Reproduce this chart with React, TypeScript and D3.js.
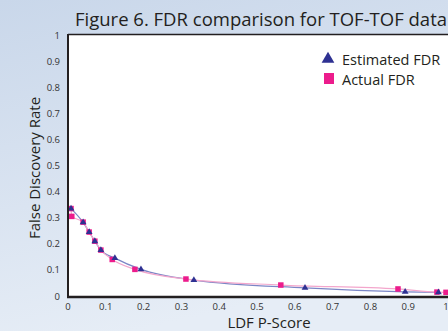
import React from 'react';
import * as d3 from 'd3';

const xTicks = [0, 0.1, 0.2, 0.3, 0.4, 0.5, 0.6, 0.7, 0.8, 0.9, 1];
const yTicks = [0, 0.1, 0.2, 0.3, 0.4, 0.5, 0.6, 0.7, 0.8, 0.9, 1];

// [LDF P-score, FDR]
const estimated: [number, number][] = [
  [0.008, 0.335], [0.04, 0.282], [0.056, 0.245], [0.071, 0.21], [0.087, 0.176],
  [0.124, 0.145], [0.193, 0.102], [0.333, 0.061], [0.627, 0.031], [0.892, 0.016], [0.98, 0.014]
];
const actual: [number, number][] = [
  [0.008, 0.335], [0.01, 0.305], [0.04, 0.283], [0.056, 0.245], [0.071, 0.21], [0.087, 0.176],
  [0.117, 0.14], [0.177, 0.102], [0.312, 0.065], [0.563, 0.042], [0.873, 0.027], [0.976, 0.015], [1.0, 0.014]
];

const W = 448;
const H = 331;

export default () => {
  const x = d3.scaleLinear().domain([0, 1]).range([68, 446]);
  const y = d3.scaleLinear().domain([0, 1]).range([296, 35]);

  const line = d3.line<[number, number]>()
    .curve(d3.curveMonotoneX)
    .x(d => x(d[0]))
    .y(d => y(d[1]));

  const tri = d3.symbol().type(d3.symbolTriangle).size(20)();

  return (
    <svg width={W} height={H} style={{ position: 'absolute', left: 0, top: 0, fontFamily: 'Open Sans, sans-serif' }}>
      <defs>
        <linearGradient id="bg" x1="0" y1="0" x2="0.3" y2="1">
          <stop offset="0" stopColor="#c9d7ea" />
          <stop offset="1" stopColor="#e6edf6" />
        </linearGradient>
      </defs>
      <rect width={W} height={H} fill="url(#bg)" />
      <rect x={68} y={35} width={W} height={261} fill="#fff" />

      <text x={261} y={26} textAnchor="middle" fontSize={18.5} fill="#231f20">
        Figure 6. FDR comparison for TOF-TOF data
      </text>

      {/* lines */}
      <path d={line(estimated) || ''} fill="none" stroke="#7b86c6" strokeWidth={1.2} />
      <path d={line(actual) || ''} fill="none" stroke="#f3a6cc" strokeWidth={1.2} />

      {actual.map((d, i) => (
        <rect key={'a' + i} x={x(d[0]) - 2.75} y={y(d[1]) - 2.75} width={5.5} height={5.5} fill="#ec1c8c" />
      ))}
      {estimated.map((d, i) => (
        <path key={'e' + i} d={tri || ''} transform={`translate(${x(d[0])},${y(d[1])})`} fill="#2e3192" />
      ))}

      {/* frame */}
      <line x1={68} y1={34.5} x2={W} y2={34.5} stroke="#231f20" strokeWidth={1.5} />
      <line x1={68} y1={34} x2={68} y2={298} stroke="#231f20" strokeWidth={2} />
      <line x1={67} y1={297} x2={W} y2={297} stroke="#231f20" strokeWidth={2.5} />

      {yTicks.map(t => (
        <text key={'y' + t} x={60} y={y(t) + 3.5} textAnchor="end" fontSize={9.5} fill="#333">{t}</text>
      ))}
      {xTicks.map(t => (
        <text key={'x' + t} x={x(t)} y={309.5} textAnchor="middle" fontSize={9.5} fill="#333">{t}</text>
      ))}

      <text x={269} y={328} textAnchor="middle" fontSize={15} fill="#231f20">LDF P-Score</text>
      <text transform={`translate(40,168) rotate(-90)`} textAnchor="middle" fontSize={15} fill="#231f20">
        False Discovery Rate
      </text>

      {/* legend */}
      <path d={d3.symbol().type(d3.symbolTriangle).size(70)() || ''} transform="translate(328,59)" fill="#2e3192" />
      <text x={342} y={65} fontSize={14.5} fill="#231f20">Estimated FDR</text>
      <rect x={324} y={73} width={10} height={11} fill="#ec1c8c" />
      <text x={342} y={85} fontSize={14.5} fill="#231f20">Actual FDR</text>
    </svg>
  );
};
